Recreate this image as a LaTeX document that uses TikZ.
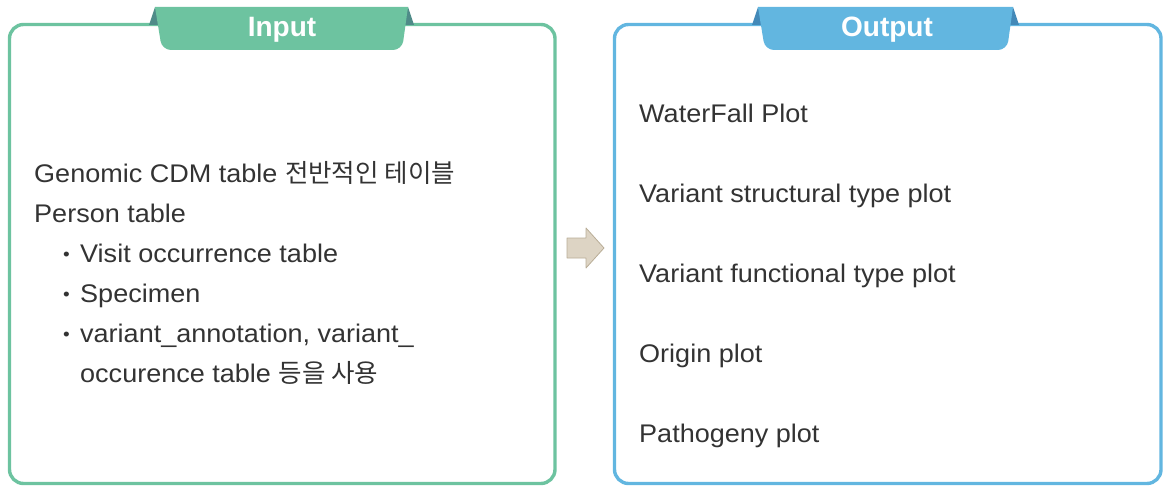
\documentclass[tikz,border=0pt]{standalone}
\usepackage{fontspec}
\setmainfont{Liberation Sans}
\newfontfamily\bodyfont[FakeStretch=1.06]{Liberation Sans}
\newfontfamily\cjk{Noto Sans CJK KR}
\definecolor{ingreen}{HTML}{6DC3A0}
\definecolor{indark}{HTML}{4F8B88}
\definecolor{outblue}{HTML}{62B6E0}
\definecolor{outdark}{HTML}{4389B8}
\definecolor{txt}{HTML}{333333}
\definecolor{arrfill}{HTML}{DDD4C4}
\definecolor{arrline}{HTML}{B9AD97}
\begin{document}
\begin{tikzpicture}[x=1pt,y=-1pt,
  panel/.style={line width=3.4pt,rounded corners=14pt},
  tabtext/.style={text=white,font=\fontsize{28}{30}\selectfont\bfseries,anchor=center},
  body/.style={text=txt,font=\bodyfont\fontsize{25.5}{28}\selectfont,anchor=base west,inner sep=0pt},
  bullet/.style={text=txt,font=\bodyfont\fontsize{18}{20}\selectfont,anchor=base west,inner sep=0pt}]
\useasboundingbox (0,0) rectangle (1165,487);
% panels
\draw[panel,draw=ingreen] (9.5,24.5) rectangle (555,483.5);
\draw[panel,draw=outblue] (614.5,24.5) rectangle (1161,483.5);
% tab folds
\fill[indark] (149,25) -- (155,7) -- (161,25) -- cycle;
\fill[indark] (402,25) -- (408,7) -- (414,25) -- cycle;
\fill[outdark] (752,25) -- (758,7) -- (764,25) -- cycle;
\fill[outdark] (1007,25) -- (1013,7) -- (1019,25) -- cycle;
% tabs
\fill[ingreen] (155,7) -- (408,7) [rounded corners=9pt] -- (402,50) -- (162,50) [sharp corners] -- cycle;
\fill[outblue] (758,7) -- (1013,7) [rounded corners=9pt] -- (1007,50) -- (765,50) [sharp corners] -- cycle;
\node[tabtext] (intab) at (282,29.5) {Input};
\node[tabtext] (outtab) at (887,29.5) {Output};
% block arrow
\filldraw[fill=arrfill,draw=arrline,line width=0.8pt,line join=round]
  (567,238) -- (586,238) -- (586,228) -- (604,248) -- (586,268) -- (586,258) -- (567,258) -- cycle;
% input text
\node[body] (l1) at (34,182) {Genomic CDM table {\cjk 전반적인 테이블}};
\node[body] (l2) at (34,222) {Person table};
\node[bullet] (b1) at (63,260) {•};
\node[body] (l3) at (80,262) {Visit occurrence table};
\node[bullet] (b2) at (63,300) {•};
\node[body] (l4) at (80,302) {Specimen};
\node[bullet] (b3) at (63,340) {•};
\node[body] (l5) at (80,342) {variant\_annotation, variant\_};
\node[body] (l6) at (80,382) {occurence table {\cjk 등을 사용}};
% output text
\node[body] (o1) at (639,122) {WaterFall Plot};
\node[body] (o2) at (639,202) {Variant structural type plot};
\node[body] (o3) at (639,282) {Variant functional type plot};
\node[body] (o4) at (639,362) {Origin plot};
\node[body] (o5) at (639,442) {Pathogeny plot};
\end{tikzpicture}
\end{document}
